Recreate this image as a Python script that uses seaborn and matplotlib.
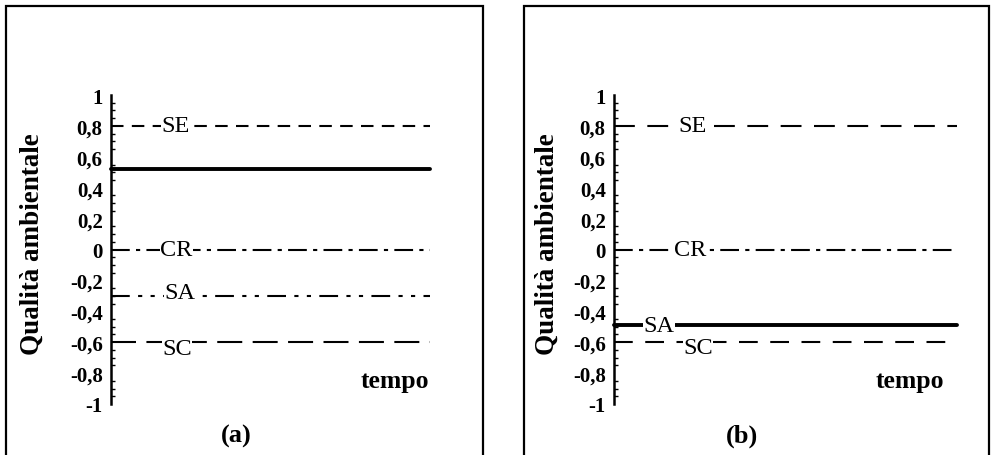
import numpy as np
import pandas as pd
import matplotlib
matplotlib.use("Agg")
import matplotlib.pyplot as plt
from matplotlib.patches import Rectangle
from matplotlib.ticker import FixedLocator, FuncFormatter, MultipleLocator
import seaborn as sns

# ---- data ----
tempo = [0.0, 1.0]

a_SE = [0.80, 0.80]
a_MEDIA = [0.52, 0.52]
a_CR = [0.00, 0.00]
a_SA = [-0.30, -0.30]
a_SC = [-0.60, -0.60]

b_SE = [0.80, 0.80]
b_CR = [0.00, 0.00]
b_SA = [-0.49, -0.49]
b_SC = [-0.60, -0.60]

y_ticks = [-1.0, -0.8, -0.6, -0.4, -0.2, 0.0, 0.2, 0.4, 0.6, 0.8, 1.0]
ylabel = "Qualità ambientale"
xlabel = "tempo"
panel_titles = ["(a)", "(b)"]

sns.set_style("white")
plt.rcParams["font.family"] = ["Liberation Serif", "DejaVu Serif"]
for k in ["text.color", "axes.labelcolor", "xtick.color", "ytick.color"]:
    plt.rcParams[k] = "black"

W, H = 991, 456
fig = plt.figure(figsize=(W / 100, H / 100), dpi=100)

def fx(px):
    return px / W

def fy(py):
    return (H - py) / H

# panel frames
for x0, x1 in [(6, 483), (524, 989)]:
    fig.patches.append(Rectangle((fx(x0), -0.05), fx(x1) - fx(x0), fy(7) + 0.05,
                                 transform=fig.transFigure, fill=False,
                                 edgecolor="black", linewidth=1.6, zorder=0))

def fmt(v, pos):
    s = f"{v:.1f}".rstrip("0").rstrip(".")
    if s in ("-0", "0.0"):
        s = "0"
    return s.replace(".", ",")

def make_axes(left_px, right_px):
    ax = fig.add_axes([fx(left_px), fy(405), fx(right_px) - fx(left_px), fy(96) - fy(405)])
    ax.set_xlim(0, 1)
    ax.set_ylim(-1, 1)
    for s in ["top", "right", "bottom"]:
        ax.spines[s].set_visible(False)
    ax.spines["left"].set_linewidth(1.8)
    ax.spines["left"].set_color("black")
    ax.set_xticks([])
    ax.yaxis.set_major_locator(FixedLocator(y_ticks))
    ax.yaxis.set_major_formatter(FuncFormatter(fmt))
    ax.yaxis.set_minor_locator(MultipleLocator(0.05))
    ax.tick_params(axis="y", which="major", direction="inout", length=8, width=1.5,
                   labelsize=15, pad=2, colors="black")
    ax.tick_params(axis="y", which="minor", direction="in", length=3, width=1.0, left=True)
    for lab in ax.get_yticklabels():
        lab.set_fontweight("bold")
    ax.set_xlabel("")
    ax.set_ylabel(ylabel, fontsize=19.5, fontweight="bold", color="black")
    ax.patch.set_alpha(0)
    return ax

def draw(ax, vals, style, lw, label=None, lx=None, dy=0.0):
    df = pd.DataFrame({"tempo": tempo, "q": vals})
    line = sns.lineplot(data=df, x="tempo", y="q", ax=ax, color="black",
                        linewidth=lw).lines[-1]
    if style != "-":
        line.set_dashes(style)
    line.set_clip_on(False)
    if label:
        ax.text(lx, vals[0] + dy, label, fontsize=17.5, ha="center", va="center",
                color="black",
                bbox=dict(facecolor="white", edgecolor="none", pad=0.3), zorder=5)

# ---- panel (a) ----
axa = make_axes(111, 430)
draw(axa, a_SE, (6, 4), 1.5, "SE", 0.203)
draw(axa, a_MEDIA, "-", 2.8)
draw(axa, a_CR, (9, 3, 2, 3), 1.5, "CR", 0.205)
draw(axa, a_SA, (9, 4, 2, 4, 2, 4), 1.5, "SA", 0.217, dy=0.02)
draw(axa, a_SC, (12, 5), 1.5, "SC", 0.207, dy=-0.04)

# ---- panel (b) ----
axb = make_axes(614, 957)
draw(axb, b_SE, (10, 6), 1.5, "SE", 0.228)
draw(axb, b_CR, (9, 3, 2, 3), 1.5, "CR", 0.222)
draw(axb, b_SA, "-", 2.8, "SA", 0.131)
draw(axb, b_SC, (9, 6), 1.5, "SC", 0.245, dy=-0.035)

# y-label positions (pixel centres: x=32 / 547, y=244)
axa.yaxis.set_label_coords((32 - 111) / (430 - 111), (405 - 244) / 309)
axb.yaxis.set_label_coords((547 - 614) / (957 - 614), (405 - 244) / 309)
for ax in (axa, axb):
    ax.yaxis.label.set_verticalalignment("center")

axa.text((395 - 111) / (430 - 111), (405 - 382) / 309, xlabel, transform=axa.transAxes,
         fontsize=18.5, fontweight="bold", ha="center", va="center")
axb.text((910 - 614) / (957 - 614), (405 - 382) / 309, xlabel, transform=axb.transAxes,
         fontsize=18.5, fontweight="bold", ha="center", va="center")

fig.text(fx(236), fy(436), panel_titles[0], fontsize=19, fontweight="bold", ha="center", va="center")
fig.text(fx(742), fy(436), panel_titles[1], fontsize=19, fontweight="bold", ha="center", va="center")

fig.savefig("out.png", dpi=100)
